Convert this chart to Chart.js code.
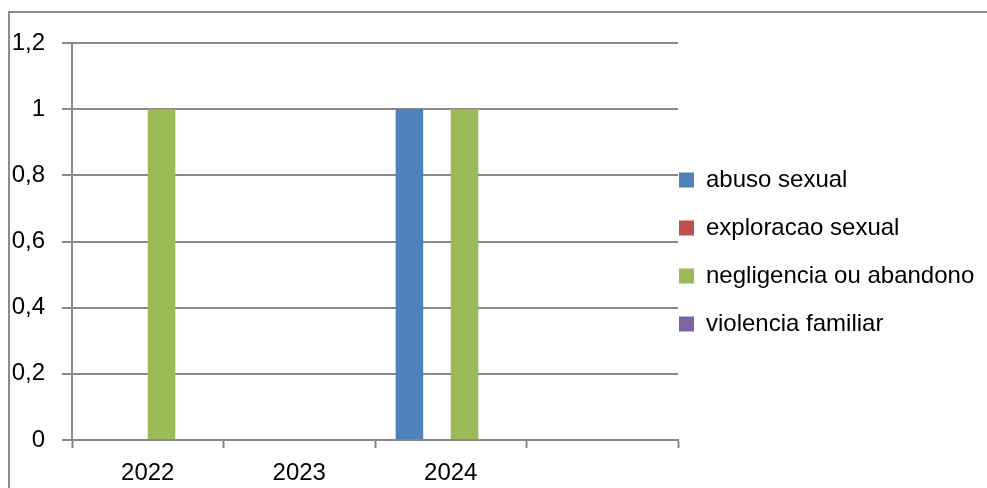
<!DOCTYPE html>
<html>
<head>
<meta charset="utf-8">
<script src="https://cdn.jsdelivr.net/npm/chart.js@4"></script>
<style>
  html, body { margin: 0; padding: 0; background: #fff; overflow: hidden; }
  #wrap { position: relative; width: 987px; height: 488px; }
  #frame {
    position: absolute; left: 8px; top: 11px; right: -10px; bottom: -10px;
    border-left: 2px solid #8c8c8c; border-top: 2px solid #8c8c8c;
    pointer-events: none;
  }
</style>
</head>
<body>
<div id="wrap">
  <canvas id="casosChart" width="987" height="488"></canvas>
  <div id="frame"></div>
</div>
<script>
const anos = ["2022", "2023", "2024", ""];
const abusoSexual = [0, 0, 1, 0];
const exploracaoSexual = [0, 0, 0, 0];
const negligencia = [1, 0, 1, 0];
const violenciaFamiliar = [0, 0, 0, 0];
const yTickLabels = ["0", "0,2", "0,4", "0,6", "0,8", "1", "1,2"];

const gridColor = "#898989";
Chart.defaults.font.family = "'Liberation Sans', Arial, sans-serif";
Chart.defaults.font.size = 24;
Chart.defaults.color = "#000";

// move legend so the boxes sit right next to the plot, like in excel
const legendShift = {
  id: "legendShift",
  afterLayout(chart) {
    const lg = chart.legend;
    const dx = chart.chartArea.right + 1 - (lg.left + lg.options.labels.padding);
    lg.left += dx;
    lg.width -= dx;
    lg.bottom -= 27; // centre the items a bit higher
    lg.height -= 27;
  },
};

const ctx = document.getElementById("casosChart").getContext("2d");
const casosChart = new Chart(ctx, {
  type: "bar",
  data: {
    labels: anos,
    datasets: [
      { label: "abuso sexual", data: abusoSexual, backgroundColor: "#4f81bd" },
      { label: "exploracao sexual", data: exploracaoSexual, backgroundColor: "#c0504d" },
      { label: "negligencia ou abandono", data: negligencia, backgroundColor: "#9bbb59" },
      { label: "violencia familiar", data: violenciaFamiliar, backgroundColor: "#8064a2" },
    ],
  },
  options: {
    responsive: false,
    animation: false,
    categoryPercentage: 4 / 5.5,
    barPercentage: 1,
    borderWidth: 0,
    layout: { padding: { top: 43, bottom: 0, left: 0, right: 0 } },
    plugins: {
      tooltip: { enabled: false },
      legend: {
        position: "right",
        maxWidth: 309,
        labels: {
          boxWidth: 15,
          boxHeight: 15,
          padding: 24,
          color: "#000",
          font: { size: 24 },
        },
      },
    },
    scales: {
      x: {
        grid: {
          offset: true,
          drawOnChartArea: false,
          drawTicks: true,
          tickLength: 8,
          tickColor: gridColor,
          tickWidth: 2,
        },
        border: { color: gridColor, width: 2 },
        ticks: { padding: 11, color: "#000", maxRotation: 0 },
        afterFit: (scale) => { scale.height = 48; },
      },
      y: {
        min: 0,
        max: 1.2,
        ticks: {
          stepSize: 0.2,
          padding: 17,
          color: "#000",
          callback: (value, index) => yTickLabels[index],
        },
        grid: {
          color: gridColor,
          lineWidth: 2,
          tickLength: 10,
        },
        border: { color: gridColor, width: 2 },
        afterFit: (scale) => { scale.width = 72; },
      },
    },
  },
  plugins: [legendShift],
});
</script>
</body>
</html>
